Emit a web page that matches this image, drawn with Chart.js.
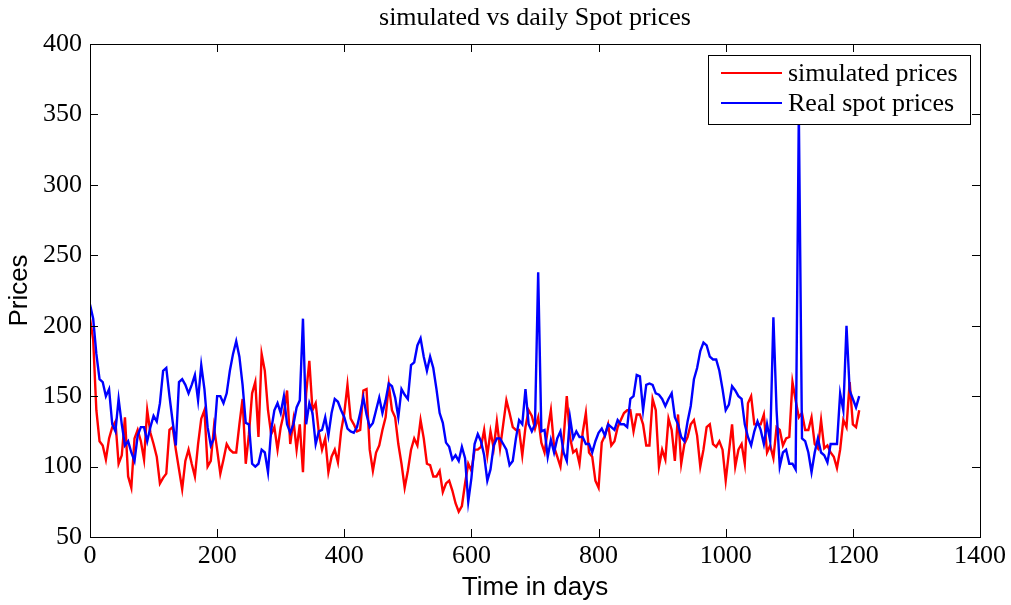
<!DOCTYPE html>
<html>
<head>
<meta charset="utf-8">
<title>simulated vs daily Spot prices</title>
<script src="https://cdn.jsdelivr.net/npm/chart.js@4.4.1/dist/chart.umd.min.js"></script>
<style>
    html, body { margin: 0; padding: 0; background: #fff; }
    #wrap { width: 1011px; height: 605px; position: relative; }
</style>
</head>
<body>
<div id="wrap"><canvas id="chart1"></canvas></div>
<script>
// day index, one reading every 5 days
const days = []
for (let d = 0; d <= 1210; d += 5) days.push(d)

const simulatedPrices = [
    205, 190, 140, 118, 115, 105, 120, 128, 132, 102, 108, 135, 93, 85, 120, 126, 118, 105, 140, 124,
    116, 107, 88, 92, 95, 126, 128, 112, 98, 84, 104, 112, 102, 93, 116, 134, 140, 100, 104, 128,
    112, 95, 105, 116, 112, 110, 110, 130, 148, 102, 123, 152, 160, 121, 180, 168, 140, 123, 128, 112,
    128, 138, 154, 116, 133, 112, 130, 96, 152, 175, 140, 145, 124, 112, 120, 96, 107, 112, 103, 125,
    138, 158, 134, 130, 125, 126, 154, 155, 112, 97, 110, 115, 126, 135, 158, 140, 135, 116, 102, 85,
    97, 112, 120, 115, 133, 120, 102, 101, 93, 93, 97, 82, 88, 90, 83, 74, 68, 72, 88, 102,
    97, 112, 112, 114, 126, 108, 125, 113, 132, 113, 130, 147, 138, 128, 126, 126, 108, 128, 140, 136,
    127, 135, 117, 110, 126, 140, 114, 107, 100, 120, 150, 121, 110, 112, 102, 124, 138, 110, 107, 90,
    85, 117, 122, 130, 115, 118, 128, 133, 138, 140, 140, 125, 137, 137, 130, 115, 115, 148, 140, 100,
    112, 105, 134, 126, 104, 137, 102, 116, 121, 130, 133, 122, 100, 112, 128, 130, 116, 114, 118, 112,
    90, 110, 130, 100, 112, 116, 102, 145, 150, 130, 130, 130, 137, 110, 115, 106, 128, 126, 115, 120,
    121, 160, 147, 135, 138, 126, 126, 135, 116, 113, 133, 113, 115, 110, 107, 99, 112, 133, 128, 160,
    130, 128, 140
]

const spotPrices = [
    215, 205, 180, 162, 160, 150, 155, 130, 125, 148, 130, 115, 118, 110, 104, 122, 128, 128, 118, 128,
    136, 132, 145, 168, 170, 150, 132, 115, 160, 162, 158, 152, 158, 165, 147, 172, 155, 128, 115, 120,
    150, 150, 145, 152, 168, 180, 189, 178, 158, 131, 130, 102, 100, 102, 112, 110, 96, 126, 140, 145,
    138, 150, 130, 124, 130, 142, 147, 205, 130, 145, 138, 116, 125, 126, 135, 122, 138, 148, 146, 140,
    135, 127, 125, 124, 128, 138, 149, 137, 128, 131, 140, 149, 138, 147, 159, 157, 149, 135, 155, 151,
    148, 172, 174, 186, 191, 178, 168, 178, 170, 155, 138, 131, 117, 114, 105, 108, 104, 114, 106, 75,
    92, 116, 123, 118, 108, 90, 98, 115, 120, 120, 116, 112, 101, 104, 120, 133, 130, 155, 130, 125,
    130, 238, 125, 126, 107, 119, 110, 120, 125, 110, 104, 135, 120, 125, 121, 121, 116, 116, 110, 118,
    124, 127, 122, 130, 128, 126, 133, 130, 130, 128, 148, 150, 165, 164, 140, 158, 159, 158, 152, 151,
    148, 143, 148, 152, 135, 130, 121, 118, 132, 143, 162, 170, 182, 188, 186, 178, 176, 176, 168, 155,
    140, 144, 157, 154, 150, 148, 130, 121, 115, 125, 132, 126, 116, 130, 118, 206, 140, 100, 110, 112,
    102, 102, 98, 352, 120, 118, 110, 96, 110, 120, 110, 108, 103, 116, 116, 116, 152, 140, 200, 154,
    148, 142, 150
]

const xTicks = [0, 200, 400, 600, 800, 1000, 1200, 1400]
const yTicks = [50, 100, 150, 200, 250, 300, 350, 400]
const legendLabels = ["simulated prices", "Real spot prices"]

;(function() {
    const serif = "'Liberation Serif', 'Times New Roman', serif"
    const sans = "'Liberation Sans', Arial, sans-serif"

    const toPoints = vals => vals.map((v, i) => ({ "x": days[i], "y": v }))

    // box round the plot, with ticks pointing inwards on all four sides
    const frame = {
        id: "frame",
        afterDatasetsDraw(chart) {
            const { ctx, chartArea: a, scales } = chart
            const len = 8
            ctx.save()
            ctx.strokeStyle = "#000"
            ctx.lineWidth = 1
            ctx.beginPath()
            for (const t of xTicks) {
                const px = Math.round(scales.x.getPixelForValue(t)) + 0.5
                ctx.moveTo(px, a.bottom); ctx.lineTo(px, a.bottom - len)
                ctx.moveTo(px, a.top); ctx.lineTo(px, a.top + len)
            }
            for (const t of yTicks) {
                const py = Math.round(scales.y.getPixelForValue(t)) + 0.5
                ctx.moveTo(a.left, py); ctx.lineTo(a.left + len, py)
                ctx.moveTo(a.right, py); ctx.lineTo(a.right - len, py)
            }
            ctx.stroke()
            ctx.strokeRect(Math.round(a.left) + 0.5, Math.round(a.top) + 0.5,
                Math.round(a.right - a.left), Math.round(a.bottom - a.top))
            ctx.restore()
        }
    }

    // title and a boxed legend in the upper right of the plot
    const decor = {
        id: "decor",
        afterDraw(chart) {
            const { ctx, chartArea: a } = chart
            ctx.save()
            ctx.fillStyle = "#000"
            ctx.font = "26px " + serif
            ctx.textAlign = "center"
            ctx.textBaseline = "middle"
            ctx.fillText("simulated vs daily Spot prices", (a.left + a.right) / 2, 18)

            const bx = 708.5, by = 55.5, bw = 262, bh = 69
            ctx.fillStyle = "#fff"
            ctx.fillRect(bx, by, bw, bh)
            ctx.strokeStyle = "#000"
            ctx.lineWidth = 1
            ctx.strokeRect(bx, by, bw, bh)

            const colors = ["#ff0000", "#0000ff"]
            const rows = [73, 103]
            ctx.textAlign = "left"
            for (let i = 0; i < legendLabels.length; i++) {
                ctx.strokeStyle = colors[i]
                ctx.lineWidth = 2
                ctx.beginPath()
                ctx.moveTo(721, rows[i])
                ctx.lineTo(782, rows[i])
                ctx.stroke()
                ctx.fillStyle = "#000"
                ctx.fillText(legendLabels[i], 788, rows[i] + 1)
            }
            ctx.restore()
        }
    }

    const chartData = {
        "type": "line",
        "data": {
            "datasets": [
                {
                    "label": legendLabels[1],
                    "data": toPoints(spotPrices),
                    "borderColor": "#0000ff",
                    "borderWidth": 2.4,
                    "pointRadius": 0,
                    "tension": 0,
                    "order": 0
                },
                {
                    "label": legendLabels[0],
                    "data": toPoints(simulatedPrices),
                    "borderColor": "#ff0000",
                    "borderWidth": 2.4,
                    "pointRadius": 0,
                    "tension": 0,
                    "order": 1
                }
            ]
        },
        "options": {
            "responsive": true,
            "maintainAspectRatio": false,
            "devicePixelRatio": 1,
            "animation": false,
            "layout": {
                "padding": { "top": 44, "right": 31, "left": 0, "bottom": 0 }
            },
            "plugins": {
                "legend": { "display": false },
                "title": { "display": false },
                "tooltip": { "enabled": false }
            },
            "scales": {
                "x": {
                    "type": "linear",
                    "min": 0,
                    "max": 1400,
                    "afterFit": s => { s.height = 68 },
                    "afterBuildTicks": s => { s.ticks = xTicks.map(v => ({ "value": v })) },
                    "grid": { "display": false, "drawTicks": false },
                    "border": { "display": false },
                    "ticks": {
                        "color": "#000",
                        "padding": 4,
                        "maxRotation": 0,
                        "callback": v => String(v),
                        "font": { "family": serif, "size": 26 }
                    },
                    "title": {
                        "display": true,
                        "text": "Time in days",
                        "color": "#000",
                        "font": { "family": sans, "size": 26 },
                        "padding": { "top": 0, "bottom": 2 }
                    }
                },
                "y": {
                    "type": "linear",
                    "min": 50,
                    "max": 400,
                    "afterFit": s => { s.width = 90 },
                    "afterBuildTicks": s => { s.ticks = yTicks.map(v => ({ "value": v })) },
                    "grid": { "display": false, "drawTicks": false },
                    "border": { "display": false },
                    "ticks": {
                        "color": "#000",
                        "padding": 8,
                        "callback": v => String(v),
                        "font": { "family": serif, "size": 26 }
                    },
                    "title": {
                        "display": true,
                        "text": "Prices",
                        "color": "#000",
                        "font": { "family": sans, "size": 26 },
                        "padding": { "top": 4, "bottom": 0 }
                    }
                }
            }
        },
        "plugins": [frame, decor]
    }

    const ctx = document.getElementById("chart1").getContext("2d")
    new Chart(ctx, chartData)
})()
</script>
</body>
</html>
